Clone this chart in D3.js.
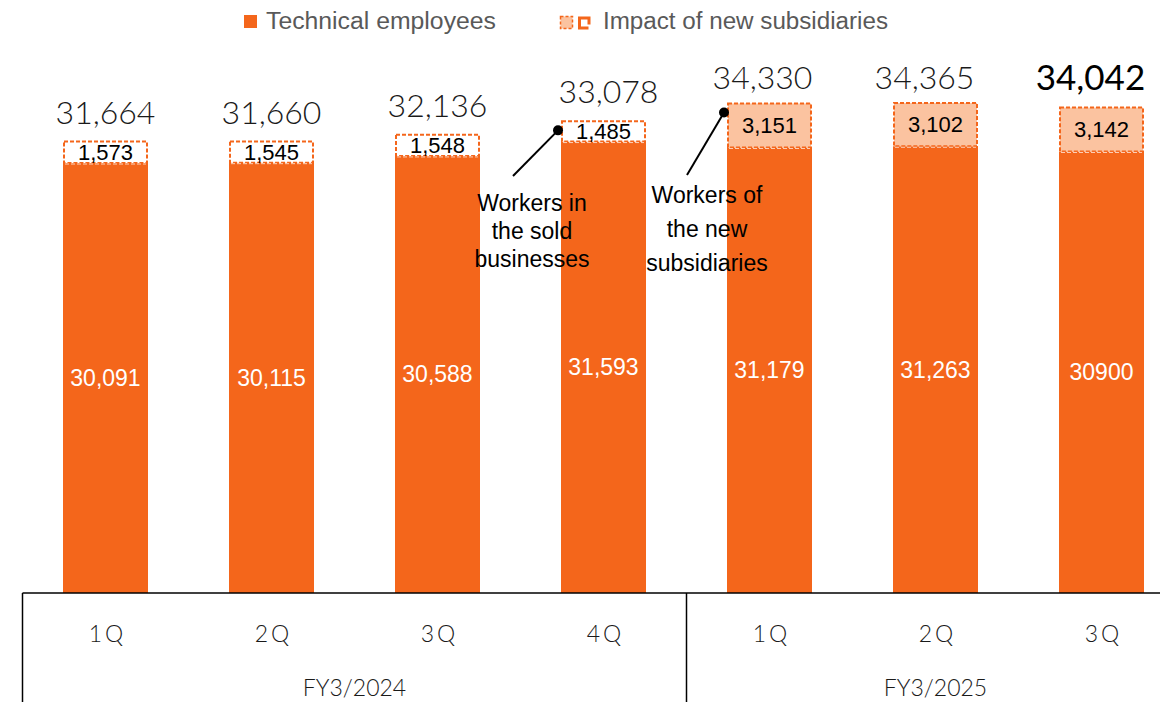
<!DOCTYPE html>
<html lang="en">
<head>
    <meta charset="UTF-8">
    <title>Technical employees</title>
    <script src="https://cdn.jsdelivr.net/npm/d3@7"></script>
    <style>
        body{ margin:0; background:#fff; }
        svg{ position:absolute; left:0px; top:0px; }
        .thin{ font-family: Lato, "DejaVu Sans", sans-serif; font-weight:300; fill:#1a1a1a; }
        .arial{ font-family: "Liberation Sans", Arial, sans-serif; }
    </style>
</head>
<body>
    <svg id="chart" width="1160" height="702"></svg>
    <script>
        // values
        var quarters = ["1Q", "2Q", "3Q", "4Q", "1Q", "2Q", "3Q"]
        var years = ["FY3/2024", "FY3/2025"]
        var yearOf = [0, 0, 0, 0, 1, 1, 1]
        var technical = [30091, 30115, 30588, 31593, 31179, 31263, 30900]
        var technicalLabels = ["30,091", "30,115", "30,588", "31,593", "31,179", "31,263", "30900"]
        var impact = [1573, 1545, 1548, 1485, 3151, 3102, 3142]
        var totals = [31664, 31660, 32136, 33078, 34330, 34365, 34042]
        var newSubsidiary = [false, false, false, false, true, true, true]

        var orange = "#f4661b"
        var light = "#fbc3a0"

        var svg = d3.select("#chart")

        var x = d3.scaleBand()
                .domain(d3.range(quarters.length))
                .range([22.5, 1184.5])
                .paddingInner(0.488)
                .paddingOuter(0.244)

        var y = d3.scaleLinear()
                .domain([0, 41500])
                .range([593, 0])

        var idx = d3.range(quarters.length)

        // technical employees bars
        svg.selectAll("rect.tech")
            .data(idx).enter().append("rect")
            .attr("class", "tech")
            .attr("x", function(i){ return x(i) })
            .attr("width", x.bandwidth())
            .attr("y", function(i){ return y(technical[i]) })
            .attr("height", function(i){ return y(0) - y(technical[i]) })
            .attr("fill", orange)

        // impact boxes (dashed)
        svg.selectAll("rect.impact")
            .data(idx).enter().append("rect")
            .attr("class", "impact")
            .attr("x", function(i){ return x(i) + 1 })
            .attr("width", x.bandwidth() - 2)
            .attr("y", function(i){ return y(totals[i]) + 1 })
            .attr("height", function(i){ return y(technical[i]) - y(totals[i]) - 1 })
            .attr("fill", function(i){ return newSubsidiary[i] ? light : "#fff" })
            .attr("stroke", orange)
            .attr("stroke-width", 2)
            .attr("stroke-dasharray", "4 2")

        // faint white dashes on the seam
        svg.selectAll("line.seam")
            .data(idx).enter().append("line")
            .attr("x1", function(i){ return x(i) + 2 })
            .attr("x2", function(i){ return x(i) + x.bandwidth() - 2 })
            .attr("y1", function(i){ return y(technical[i]) + 1 })
            .attr("y2", function(i){ return y(technical[i]) + 1 })
            .attr("stroke", "#fff")
            .attr("stroke-opacity", 0.7)
            .attr("stroke-width", 1)
            .attr("stroke-dasharray", "4 2")

        // labels inside bars
        svg.selectAll("text.techlabel")
            .data(idx).enter().append("text")
            .attr("class", "arial")
            .attr("x", function(i){ return x(i) + x.bandwidth() / 2 })
            .attr("y", function(i){ return (y(technical[i]) + y(0)) / 2 + 8 })
            .attr("text-anchor", "middle")
            .attr("font-size", 23)
            .attr("fill", "#fff")
            .text(function(i){ return technicalLabels[i] })

        svg.selectAll("text.implabel")
            .data(idx).enter().append("text")
            .attr("class", "arial")
            .attr("x", function(i){ return x(i) + x.bandwidth() / 2 })
            .attr("y", function(i){ return (y(totals[i]) + y(technical[i])) / 2 + 8 })
            .attr("text-anchor", "middle")
            .attr("font-size", 22)
            .attr("fill", "#000")
            .text(function(i){ return d3.format(",")(impact[i]) })

        // totals above
        var shift = [0, 0, 0, 5, -7, -11, -11]
        svg.selectAll("text.total")
            .data(idx).enter().append("text")
            .attr("class", "thin")
            .attr("x", function(i){ return x(i) + x.bandwidth() / 2 + shift[i] })
            .attr("y", function(i){ return y(totals[i]) - (i == 4 || i == 5 ? 13 : 17) })
            .attr("text-anchor", "middle")
            .attr("font-size", function(i){ return i == 6 ? 35 : 32 })
            .style("font-weight", function(i){ return i == 6 ? 400 : 300 })
            .style("fill", function(i){ return i == 6 ? "#000" : "#1a1a1a" })
            .text(function(i){ return d3.format(",")(totals[i]) })

        // annotations
        var notes = [
            {bar: 3, lines: ["Workers in", "the sold", "businesses"], tx: 532, ty: 211, gap: 28, lx: 513, ly: 176},
            {bar: 4, lines: ["Workers of", "the new", "subsidiaries"], tx: 707, ty: 203, gap: 34, lx: 687, ly: 175}
        ]
        notes.forEach(function(n){
            var px = x(n.bar) - 3
            var py = y(totals[n.bar]) + 10
            svg.append("line")
                .attr("x1", px).attr("y1", py)
                .attr("x2", n.lx).attr("y2", n.ly)
                .attr("stroke", "#000").attr("stroke-width", 2)
            svg.append("circle")
                .attr("cx", px).attr("cy", py).attr("r", 5).attr("fill", "#000")
            n.lines.forEach(function(t, k){
                svg.append("text")
                    .attr("class", "arial")
                    .attr("x", n.tx).attr("y", n.ty + k * n.gap)
                    .attr("text-anchor", "middle")
                    .attr("font-size", 23)
                    .attr("fill", "#000")
                    .text(t)
            })
        })

        // category axis
        svg.append("line")
            .attr("x1", 22.5).attr("x2", 1160)
            .attr("y1", y(0)).attr("y2", y(0))
            .attr("stroke", "#000").attr("stroke-width", 1.5)

        var yearEdges = [x.range()[0], x(4) - x.step() * x.paddingInner() / 2]
        yearEdges.forEach(function(e){
            svg.append("line")
                .attr("x1", e).attr("x2", e)
                .attr("y1", y(0)).attr("y2", 702)
                .attr("stroke", "#000").attr("stroke-width", 1.5)
        })

        svg.selectAll("text.q")
            .data(idx).enter().append("text")
            .attr("class", "thin")
            .attr("x", function(i){ return x(i) + x.bandwidth() / 2 + 2 })
            .attr("y", 642)
            .attr("text-anchor", "middle")
            .attr("font-size", 23)
            .attr("letter-spacing", 3)
            .text(function(i){ return quarters[i] })

        years.forEach(function(yr, k){
            var members = idx.filter(function(i){ return yearOf[i] == k })
            var a = x(members[0]) - x.step() * x.paddingInner() / 2
            var b = x(members[members.length - 1]) + x.bandwidth() + x.step() * x.paddingInner() / 2
            svg.append("text")
                .attr("class", "thin")
                .attr("x", (a + b) / 2)
                .attr("y", 696)
                .attr("text-anchor", "middle")
                .attr("font-size", 23)
                .text(yr)
        })

        // legend
        var lg = svg.append("g").attr("class", "arial")
        lg.append("rect").attr("x", 244).attr("y", 15).attr("width", 13).attr("height", 13).attr("fill", orange)
        lg.append("text").attr("x", 266).attr("y", 28.5).attr("font-size", 23).attr("fill", "#595959")
            .attr("textLength", 230).attr("lengthAdjust", "spacingAndGlyphs")
            .text("Technical employees")
        lg.append("rect").attr("x", 560.5).attr("y", 16.5).attr("width", 12).attr("height", 12)
            .attr("fill", light).attr("stroke", orange).attr("stroke-width", 1.5).attr("stroke-dasharray", "3 2")
        lg.append("rect").attr("x", 579.5).attr("y", 18).attr("width", 9.5).attr("height", 10)
            .attr("fill", "none").attr("stroke", orange).attr("stroke-width", 3).attr("stroke-dasharray", "16 4 30")
        lg.append("text").attr("x", 603).attr("y", 29).attr("font-size", 23).attr("fill", "#595959")
            .attr("textLength", 285).attr("lengthAdjust", "spacingAndGlyphs")
            .text("Impact of new subsidiaries")
    </script>
</body>
</html>
